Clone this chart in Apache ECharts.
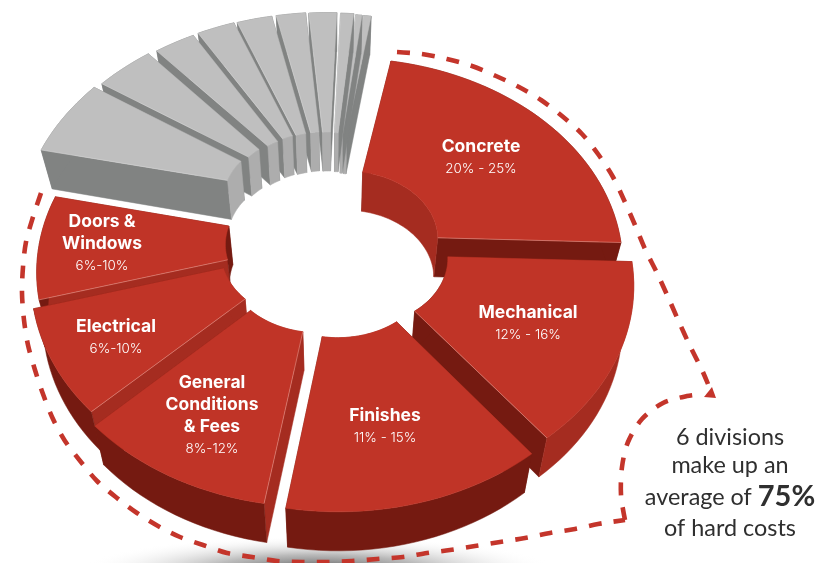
<!DOCTYPE html>
<html>
<head>
<meta charset="utf-8">
<style>html,body{margin:0;padding:0;background:#fff}#chart{width:817px;height:563px}</style>
<script src="https://cdn.jsdelivr.net/npm/echarts@6/dist/echarts.min.js"></script>
</head>
<body>
<div id="chart"></div>
<script>
// Share of hard costs by construction division (midpoint of each published range, percent).
const divisionNames = ['Concrete', 'Mechanical', 'Finishes', 'General\nConditions\n& Fees', 'Electrical', 'Doors &\nWindows'];
const divisionRanges = ['20% - 25%', '12% - 16%', '11% - 15%', '8%-12%', '6%-10%', '6%-10%'];
const divisionShares = [22.5, 14, 13, 10, 8, 8];
const otherShares = [6.1, 4.2, 2.8, 2.6, 2.4, 2, 1.9, 0.9, 0.4, 0.5];
const calloutLines = ['6 divisions', 'make up an', 'average of ', 'of hard costs'];
const calloutFigure = '75%';

// Ring projection: a tilted disc seen in perspective, walls extruded downward.
const view = { cx: 334, cy: 242, ax: 295, ay: 219, persp: 0.15, depth: 39, lean: 0.038, startDeg: 11, fullCircle: 100 };
const innerRadius = 0.31;
const outerRadius = [0.93, 0.925, 0.94, 0.945, 0.94, 0.94, 1.01, 1.01, 1.01, 1.01, 1.01, 1.01, 1.01, 1.01, 1.01, 1.01];
// Half-width of the parallel gap cut along each slice's radial edges.
const edgeGap = [0, 0, 0, 0, 0, 0, 0.006, 0.014, 0.006, 0.006, 0.005, 0.004, 0.004, 0.002, 0, 0];

// Explosion of each slice from the ring centre, in disc units.
const sliceShift = [
  [0.043, -0.03], [0.072, 0.056], [0.012, 0.1], [-0.05, 0.08], [-0.07, 0.032], [-0.058, -0.005],
  [-0.076, -0.219], [-0.061, -0.2235], [-0.045, -0.228], [-0.037, -0.235], [-0.034, -0.233],
  [-0.025, -0.235], [-0.02, -0.233], [-0.011, -0.23], [-0.005, -0.223], [0, -0.221]
];
// Back-to-front paint rank.
const paintRank = [10, 14, 15, 13, 12, 11, 9, 8, 7, 6, 5, 4, 3, 2, 1, 0];

const RED = '#c03427', RED_MID = '#a52c20', RED_DARK = '#751a11';
const GREY = '#bfbfbf', GREY_MID = '#adadad', GREY_DARK = '#818382';
const redTones = [
  { outer: RED_DARK, inner: RED_MID, start: RED_DARK, end: RED_DARK },
  { outer: RED_MID, inner: RED_DARK, start: RED_DARK, end: RED_DARK },
  { outer: RED_DARK, inner: RED_MID, start: RED_DARK, end: RED_DARK },
  { outer: RED_DARK, inner: RED_MID, start: RED_MID, end: RED_DARK },
  { outer: RED_DARK, inner: RED_MID, start: RED_MID, end: RED_DARK },
  { outer: RED_DARK, inner: RED_DARK, start: RED_MID, end: RED_DARK }
];
const greyTones = { outer: GREY_DARK, inner: GREY_MID, start: GREY_DARK, end: GREY_DARK };

// Label centres for the six red slices.
const labelAnchor = [[481, 157.5], [528, 323.5], [385, 426.5], [212, 415.5], [116, 337.5], [102, 243.5]];

// Dashed callout outline.
const calloutArc = [[397, 52], [422, 54], [447, 59], [472, 66], [496, 76], [519, 87], [541, 100], [562, 116], [582, 134], [598, 154], [613, 177], [624, 200], [635, 225], [645, 249], [657, 273], [668, 297], [679, 322], [690, 346], [702, 370], [708, 384]];
const calloutSweep = [[41, 193], [33, 217], [26, 242], [23, 267], [22, 293], [24, 320], [28, 345], [35, 370], [43, 394], [53, 419], [65, 441], [81, 462], [97, 481], [117, 498], [137, 513], [158, 526], [180, 537], [203, 545], [227, 553], [252, 557], [277, 561], [302, 562], [327, 562], [352, 561], [377, 559], [403, 557], [427, 553], [450, 550], [475, 546], [500, 542], [525, 538], [550, 533], [575, 529], [598, 524], [625, 520]];
const calloutHook = [[625, 520], [621, 495], [622, 467], [628, 442], [642, 419], [663, 403], [687, 396], [704, 394]];

const allShares = divisionShares.concat(otherShares);
const cumulative = [];
allShares.reduce((sum, v, i) => { cumulative[i] = sum; return sum + v; }, 0);

function project(deg, r, shift) {
  const t = deg * Math.PI / 180;
  const X = r * Math.sin(t) + shift[0];
  const Y = -r * Math.cos(t) + shift[1];
  const w = 1 / (1 - view.persp * Y);
  return [view.cx + view.ax * X * w, view.cy + view.ay * Y * w];
}
function drop(p) {
  return [p[0] - view.lean * (p[0] - view.cx), p[1] + view.depth];
}
function arc(d0, d1, r, shift, gap) {
  const pad = Math.asin(gap / r) * 180 / Math.PI;
  const from = d0 + pad, to = d1 - pad;
  const n = Math.max(4, Math.ceil(Math.abs(to - from) / 2));
  const pts = [];
  for (let i = 0; i <= n; i++) pts.push(project(from + (to - from) * i / n, r, shift));
  return pts;
}

function renderSlice(params, api) {
  const i = params.dataIndex;
  const share = api.value(0);
  const d0 = view.startDeg + cumulative[i] / view.fullCircle * 360;
  const d1 = d0 + share / view.fullCircle * 360;
  const isRed = i < divisionShares.length;
  const shift = sliceShift[i];
  const tones = isRed ? redTones[i] : greyTones;
  const base = paintRank[i] * 10;

  const outer = arc(d0, d1, outerRadius[i], shift, edgeGap[i]);
  const inner = arc(d0, d1, innerRadius, shift, edgeGap[i]);
  const a = inner[0], b = outer[0], c = inner[inner.length - 1], d = outer[outer.length - 1];
  const poly = (pts, fill, z) => ({
    type: 'polygon', z2: base + z, shape: { points: pts },
    style: { fill: fill, stroke: fill, lineWidth: 0.5 }
  });
  const seam = (pts, z) => ({
    type: 'polyline', z2: base + z, shape: { points: pts },
    style: { fill: 'none', stroke: isRed ? 'rgba(255,215,205,0.5)' : 'rgba(255,255,255,0.3)', lineWidth: 0.7 }
  });

  const children = [
    poly([c, d, drop(d), drop(c)], tones.end, 0),
    poly([a, b, drop(b), drop(a)], tones.start, 1),
    poly(inner.concat(inner.map(drop).reverse()), tones.inner, 2),
    poly(outer.concat(outer.map(drop).reverse()), tones.outer, 3),
    poly(outer.concat(inner.slice().reverse()), isRed ? RED : GREY, 4)
  ];
  if (i === 0 || i === 1) children.push(seam([c, d], 5));
  if (i >= 3 && i <= 5) children.push(seam([a, b], 5));
  if (!isRed) children.push(seam([a, b], 5));

  if (isRed) {
    const nameLines = divisionNames[i].split('\n').map(s => '{name|' + s + '}').join('\n');
    children.push({
      type: 'text', z2: 500, x: labelAnchor[i][0], y: labelAnchor[i][1],
      style: {
        text: nameLines + '\n{range|' + divisionRanges[i] + '}',
        align: 'center', verticalAlign: 'middle',
        rich: {
          name: { fontFamily: 'Inter', fontSize: 17.5, fontWeight: 700, fill: '#fff', color: '#fff', lineHeight: 22, align: 'center' },
          range: { fontFamily: 'Inter', fontSize: 13.4, fontWeight: 300, fill: '#fff', color: '#fff', lineHeight: 21, align: 'center' }
        }
      }
    });
  }
  return { type: 'group', children: children };
}

const dash = { stroke: '#c4352b', lineWidth: 4.6, lineDash: [13, 12], fill: 'none' };
const calloutText = (y, text) => ({
  type: 'text', z: 20, x: 730, y: y,
  style: {
    text: text, align: 'center', verticalAlign: 'middle',
    fontFamily: 'Lato', fontSize: 23.4, fill: '#2f2f2f',
    rich: { big: { fontFamily: 'Lato', fontSize: 29, fontWeight: 700, fill: '#2f2f2f', color: '#2f2f2f' } }
  }
});

const chart = echarts.init(document.getElementById('chart'), null, { renderer: 'canvas' });
chart.setOption({
  animation: false,
  backgroundColor: '#fff',
  graphic: [
    {
      // Ground shadow: a radial fade squashed into a flat ellipse.
      type: 'circle', z: 0, x: 318, y: 570, scaleX: 7, scaleY: 1,
      shape: { cx: 0, cy: 0, r: 34 },
      style: {
        fill: {
          type: 'radial', x: 0.5, y: 0.5, r: 0.5,
          colorStops: [
            { offset: 0, color: 'rgba(70,70,70,0.95)' },
            { offset: 0.45, color: 'rgba(130,130,130,0.55)' },
            { offset: 1, color: 'rgba(255,255,255,0)' }
          ]
        }
      }
    },
    { type: 'polyline', z: 10, shape: { points: calloutArc, smooth: 0.3 }, style: dash },
    { type: 'polyline', z: 10, shape: { points: calloutSweep, smooth: 0.3 }, style: dash },
    { type: 'polyline', z: 10, shape: { points: calloutHook, smooth: 0.3 }, style: dash },
    { type: 'polygon', z: 10, shape: { points: [[712, 387], [704, 397], [716, 398]] }, style: { fill: '#c4352b' } },
    calloutText(437, calloutLines[0]),
    calloutText(465, calloutLines[1]),
    calloutText(497, calloutLines[2] + '{big|' + calloutFigure + '}'),
    calloutText(528, calloutLines[3])
  ],
  series: [{
    type: 'custom',
    coordinateSystem: 'none',
    silent: true,
    renderItem: renderSlice,
    data: allShares.map(v => [v])
  }]
});
</script>
</body>
</html>
